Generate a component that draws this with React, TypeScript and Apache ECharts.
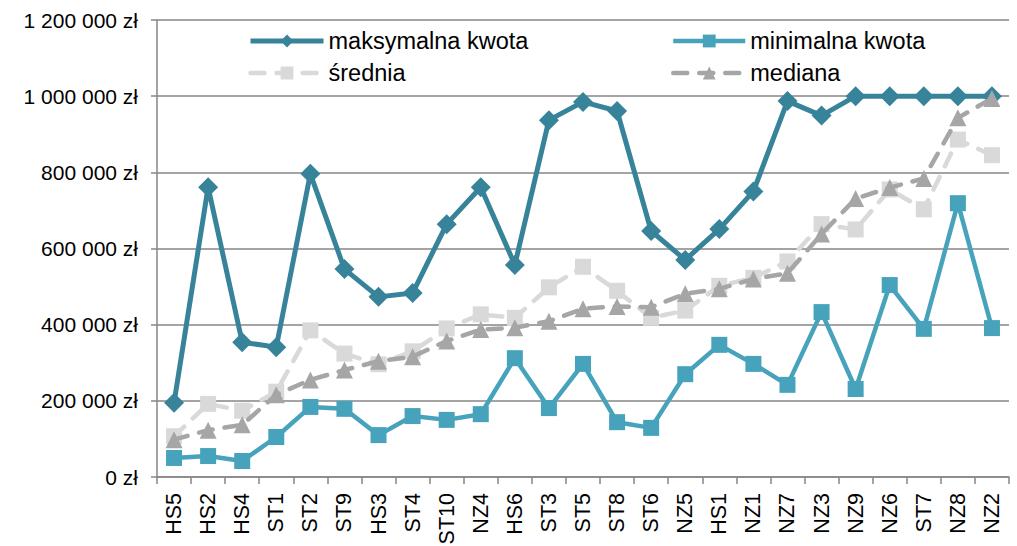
import React, { useEffect, useRef } from "react";
import * as echarts from "echarts";

const categories = ["HS5","HS2","HS4","ST1","ST2","ST9","HS3","ST4","ST10","NZ4","HS6","ST3","ST5","ST8","ST6","NZ5","HS1","NZ1","NZ7","NZ3","NZ9","NZ6","ST7","NZ8","NZ2"];
const maxValues = [195000,761000,354000,341000,796000,546000,473000,483000,664000,761000,557000,937000,985000,961000,646000,570000,651000,750000,987000,949000,1000000,1000000,1000000,1000000,1000000];
const minValues = [50000,55000,42000,105000,184000,179000,110000,160000,150000,165000,312000,181000,297000,144000,129000,270000,347000,297000,242000,433000,231000,504000,389000,719000,391000];
const meanValues = [107000,192000,174000,224000,385000,324000,296000,330000,390000,427000,418000,498000,552000,489000,418000,437000,502000,523000,566000,664000,650000,755000,703000,886000,845000];
const medianValues = [98000,123000,137000,216000,255000,281000,304000,316000,357000,387000,392000,409000,442000,448000,446000,481000,494000,520000,535000,638000,731000,760000,784000,943000,994000];
const seriesNames = ["maksymalna kwota","minimalna kwota","średnia","mediana"];

const FONT = "Liberation Sans, Arial, sans-serif";

function fmt(v: number): string {
  const s = Math.round(v).toString().replace(/\B(?=(\d{3})+(?!\d))/g, " ");
  return s + " zł";
}

export default function App() {
  const ref = useRef<HTMLDivElement>(null);
  useEffect(() => {
    if (!ref.current) return;
    const chart = echarts.init(ref.current, undefined, { renderer: "svg" });
    const legendText = { fontFamily: FONT, fontSize: 23.5, color: "#000", lineHeight: 24 };
    chart.setOption({
      animation: false,
      backgroundColor: "#fff",
      legend: [
        {
          orient: "vertical",
          left: 243,
          top: 24,
          itemWidth: 73,
          itemHeight: 16,
          itemGap: 8,
          textStyle: legendText,
          lineStyle: { width: "inherit" },
          data: [seriesNames[0], seriesNames[2]],
        },
        {
          orient: "vertical",
          left: 666,
          top: 24,
          itemWidth: 72,
          itemHeight: 16,
          itemGap: 8,
          textStyle: legendText,
          lineStyle: { width: "inherit" },
          data: [seriesNames[1], seriesNames[3]],
        },
      ],
      grid: { left: 157, right: 8, top: 20, bottom: 69, containLabel: false, outerBoundsMode: "none" },
      xAxis: {
        type: "category",
        data: categories,
        boundaryGap: true,
        axisLine: { show: true, lineStyle: { color: "#868686", width: 1.5 } },
        axisTick: { show: true, length: 7, interval: 0, lineStyle: { color: "#868686", width: 1.5 } },
        axisLabel: {
          interval: 0,
          rotate: 90,
          margin: 16,
          fontFamily: FONT,
          fontSize: 21.5,
          color: "#000",
        },
      },
      yAxis: {
        type: "value",
        min: 0,
        max: 1200000,
        interval: 200000,
        axisLine: { show: true, lineStyle: { color: "#868686", width: 1.5 } },
        axisTick: { show: true, length: 6, inside: false, lineStyle: { color: "#868686", width: 1.5 } },
        splitLine: { show: true, lineStyle: { color: "#868686", width: 1.5 } },
        axisLabel: {
          formatter: (v: number) => fmt(v),
          margin: 19,
          fontFamily: FONT,
          fontSize: 21,
          color: "#000",
        },
      },
      series: [
        {
          name: seriesNames[0],
          type: "line",
          data: maxValues,
          symbol: "diamond",
          symbolSize: 20,
          itemStyle: { color: "#37849A" },
          lineStyle: { color: "#37849A", width: 5 },
          z: 2,
        },
        {
          name: seriesNames[1],
          type: "line",
          data: minValues,
          symbol: "rect",
          symbolSize: 16,
          itemStyle: { color: "#47A3BC" },
          lineStyle: { color: "#47A3BC", width: 4.5 },
          z: 3,
        },
        {
          name: seriesNames[2],
          type: "line",
          data: meanValues,
          symbol: "rect",
          symbolSize: 16,
          itemStyle: { color: "#D9D9D9" },
          lineStyle: { color: "#D9D9D9", width: 4.5, type: [14, 12], cap: "round" },
          z: 4,
        },
        {
          name: seriesNames[3],
          type: "line",
          data: medianValues,
          symbol: "triangle",
          symbolSize: 17,
          itemStyle: { color: "#A6A6A6" },
          lineStyle: { color: "#A6A6A6", width: 4.5, type: [14, 12], cap: "round" },
          z: 5,
        },
      ],
    });
    return () => chart.dispose();
  }, []);
  return (
    <div style={{ position: "fixed", left: 0, top: 0, width: 1017, height: 546, overflow: "hidden" }}>
      <div ref={ref} style={{ width: 1017, height: 546 }} />
    </div>
  );
}
